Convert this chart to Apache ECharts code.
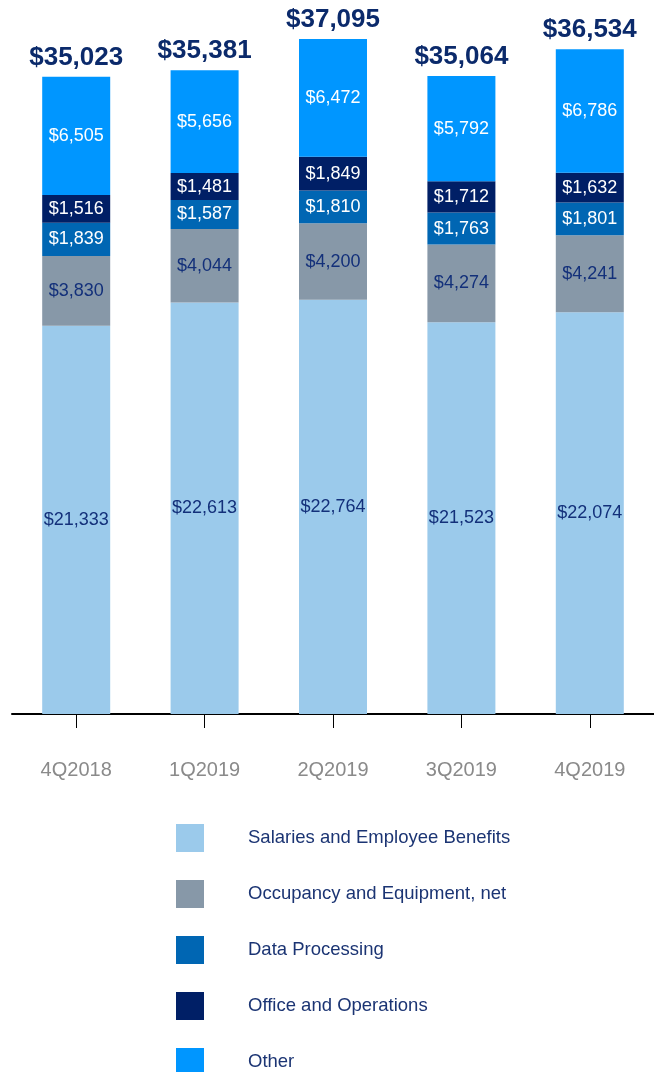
<!DOCTYPE html>
<html>
<head>
<meta charset="utf-8">
<script src="https://cdn.jsdelivr.net/npm/echarts@6/dist/echarts.min.js"></script>
<style>html,body{margin:0;padding:0;background:#fff;}#c{width:654px;height:1072px;}</style>
</head>
<body>
<div id="c"></div>
<script>
const categories = ['4Q2018', '1Q2019', '2Q2019', '3Q2019', '4Q2019'];
const salaries = [21333, 22613, 22764, 21523, 22074];
const occupancy = [3830, 4044, 4200, 4274, 4241];
const dataProcessing = [1839, 1587, 1810, 1763, 1801];
const officeOps = [1516, 1481, 1849, 1712, 1632];
const other = [6505, 5656, 6472, 5792, 6786];
const totals = [35023, 35381, 37095, 35064, 36534];

const fmt = v => '$' + Number(v).toLocaleString('en-US');
const font = 'Liberation Sans, Arial, sans-serif';

function barSeries(name, data, color, labelColor) {
  return {
    name: name, type: 'bar', stack: 'total', data: data, barWidth: 68,
    itemStyle: { color: color },
    label: { show: true, position: 'inside', color: labelColor, fontSize: 18, fontFamily: font,
      formatter: p => fmt(p.value) },
    emphasis: { disabled: true }
  };
}

const chart = echarts.init(document.getElementById('c'));
chart.setOption({
  animation: false,
  grid: { left: 12, top: 39, width: 648, height: 675, containLabel: false },
  xAxis: {
    type: 'category', data: categories,
    axisLine: { show: true, lineStyle: { color: '#000', width: 2 } },
    axisTick: { show: true, alignWithLabel: true, length: 14, lineStyle: { color: '#000', width: 1 } },
    axisLabel: { color: '#8a8a8a', fontSize: 20, fontFamily: font, margin: 46 }
  },
  yAxis: { type: 'value', min: 0, max: 37095, show: false, splitLine: { show: false } },
  legend: {
    orient: 'vertical', left: 176, top: 824, height: 260, padding: 0,
    itemWidth: 28, itemHeight: 28, itemGap: 28,
    icon: 'rect',
    textStyle: { color: '#1b3473', fontSize: 18.5, fontFamily: font, padding: [3, 0, 0, 39] },
    data: ['Salaries and Employee Benefits', 'Occupancy and Equipment, net', 'Data Processing', 'Office and Operations', 'Other']
  },
  series: [
    barSeries('Salaries and Employee Benefits', salaries, '#9bcaeb', '#13307a'),
    barSeries('Occupancy and Equipment, net', occupancy, '#8798a8', '#13307a'),
    barSeries('Data Processing', dataProcessing, '#0066b3', '#ffffff'),
    barSeries('Office and Operations', officeOps, '#001f66', '#ffffff'),
    barSeries('Other', other, '#0096ff', '#ffffff'),
    {
      name: 'Total', type: 'scatter', data: totals, symbolSize: 0.01,
      itemStyle: { opacity: 1, color: 'rgba(0,0,0,0)' },
      label: { show: true, position: 'top', distance: 6, color: '#0b2a6b', opacity: 1, fontSize: 26, fontWeight: 'bold', fontFamily: font,
        formatter: p => fmt(p.value) },
      emphasis: { disabled: true }, z: 10
    }
  ]
});
</script>
</body>
</html>
